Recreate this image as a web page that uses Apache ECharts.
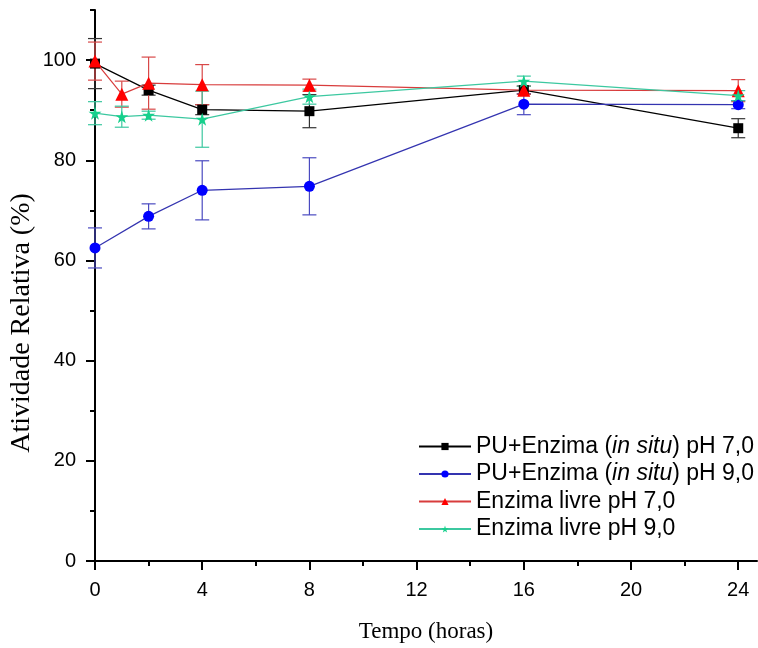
<!DOCTYPE html>
<html>
<head>
<meta charset="utf-8">
<script src="https://cdn.jsdelivr.net/npm/echarts@6/dist/echarts.min.js"></script>
<style>
  html, body { margin: 0; padding: 0; background: #fff; }
  #chart { width: 758px; height: 648px; }
</style>
</head>
<body>
<div id="chart"></div>
<script>
// tempo (horas)
const xPU = [0, 2, 4, 8, 16, 24]
const xLivre = [0, 1, 2, 4, 8, 16, 24]

// atividade relativa (%) e desvios
const puPH7 = [99.3, 94.0, 90.1, 89.8, 94.0, 86.4]
const puPH7Err = [5.0, 1.0, 1.0, 3.3, 0.8, 1.9]
const puPH9 = [62.5, 68.8, 74.0, 74.8, 91.2, 91.1]
const puPH9Err = [4.0, 2.5, 5.9, 5.7, 2.1, 0.8]
const livrePH7 = [99.8, 93.2, 95.4, 95.1, 95.0, 94.0, 93.9]
const livrePH7Err = [3.8, 2.6, 5.2, 4.0, 1.2, 0.8, 2.2]
const livrePH9 = [89.4, 88.7, 89.0, 88.2, 92.7, 95.8, 92.9]
const livrePH9Err = [2.3, 2.1, 0.8, 5.6, 1.5, 1.0, 1.0]

const xMajor = [0, 4, 8, 12, 16, 20, 24]
const xMinor = [2, 6, 10, 14, 18, 22]
const yMajor = [0, 20, 40, 60, 80, 100]
const yMinor = [10, 30, 50, 70, 90, 110]

const names = [
  "PU+Enzima (in situ) pH 7,0",
  "PU+Enzima (in situ) pH 9,0",
  "Enzima livre pH 7,0",
  "Enzima livre pH 9,0"
]

const star = "path://M50,0 L61,35 L98,35 L68,57 L79,91 L50,70 L21,91 L32,57 L2,35 L39,35 Z"

const chart = echarts.init(document.getElementById("chart"))

function pairs(xs, ys) {
  return xs.map((x, i) => [x, ys[i]])
}
function triples(xs, ys, es) {
  return xs.map((x, i) => [x, ys[i], es[i]])
}

// barras de erro
function errorBars(color) {
  return function (params, api) {
    const x = api.value(0)
    const y = api.value(1)
    const e = api.value(2)
    const top = api.coord([x, y + e])
    const bot = api.coord([x, y - e])
    const hw = 7
    const style = { stroke: color, lineWidth: 1.2, fill: null }
    return {
      type: "group",
      children: [
        { type: "line", shape: { x1: top[0], y1: top[1], x2: bot[0], y2: bot[1] }, style },
        { type: "line", shape: { x1: top[0] - hw, y1: top[1], x2: top[0] + hw, y2: top[1] }, style },
        { type: "line", shape: { x1: bot[0] - hw, y1: bot[1], x2: bot[0] + hw, y2: bot[1] }, style }
      ]
    }
  }
}

function errSeries(name, data, color) {
  return {
    name: name,
    type: "custom",
    renderItem: errorBars(color),
    data: data,
    encode: { x: 0, y: 1 },
    clip: false,
    z: 1,
    silent: true
  }
}

function lineSeries(name, data, symbol, size, markerColor, lineColor) {
  return {
    name: name,
    type: "line",
    data: data,
    symbol: symbol,
    symbolSize: size,
    showAllSymbol: true,
    itemStyle: { color: markerColor },
    lineStyle: { color: lineColor, width: 1.2 },
    clip: false,
    z: 3
  }
}

const axisFont = "'Liberation Sans', Arial, sans-serif"
const titleFont = "'Liberation Serif', 'Times New Roman', serif"

const option = {
  animation: false,
  backgroundColor: "#fff",
  grid: { left: 95, right: 1, top: 10, bottom: 85, containLabel: false },
  legend: {
    data: names,
    orient: "vertical",
    left: 418,
    top: 435,
    padding: 0,
    itemWidth: 52,
    itemHeight: 9,
    itemGap: 4.5,
    formatter: (name) => name.replace("in situ", "{i|in situ}"),
    textStyle: {
      fontSize: 23,
      fontFamily: axisFont,
      color: "#000",
      rich: {
        i: { fontSize: 23, fontStyle: "italic", fontFamily: axisFont, color: "#000" }
      }
    }
  },
  graphic: [
    {
      type: "text",
      x: 22,
      y: 323,
      rotation: Math.PI / 2,
      style: {
        text: "Atividade Relativa (%)",
        font: "28px " + titleFont,
        fill: "#000",
        align: "center",
        verticalAlign: "middle"
      }
    }
  ],
  xAxis: [
    {
      type: "value",
      min: 0,
      max: 24.7,
      name: "Tempo (horas)",
      nameLocation: "middle",
      nameGap: 59,
      nameTextStyle: { fontSize: 23, fontFamily: titleFont, color: "#000" },
      splitLine: { show: false },
      axisLine: { lineStyle: { color: "#000", width: 2 } },
      axisTick: { customValues: xMajor, length: 9, lineStyle: { color: "#000", width: 2 } },
      axisLabel: { customValues: xMajor, fontSize: 20, fontFamily: axisFont, color: "#000", margin: 19 }
    },
    {
      type: "value",
      min: 0,
      max: 24.7,
      position: "bottom",
      splitLine: { show: false },
      axisLine: { show: false },
      axisTick: { customValues: xMinor, length: 5, lineStyle: { color: "#000", width: 2 } },
      axisLabel: { show: false }
    }
  ],
  yAxis: [
    {
      type: "value",
      min: 0,
      max: 110,
      splitLine: { show: false },
      axisLine: { lineStyle: { color: "#000", width: 2 } },
      axisTick: { customValues: yMajor, length: 9, lineStyle: { color: "#000", width: 2 } },
      axisLabel: { customValues: yMajor, fontSize: 20, fontFamily: axisFont, color: "#000", margin: 19 }
    },
    {
      type: "value",
      min: 0,
      max: 110,
      position: "left",
      splitLine: { show: false },
      axisLine: { show: false },
      axisTick: { customValues: yMinor, length: 5, lineStyle: { color: "#000", width: 2 } },
      axisLabel: { show: false }
    }
  ],
  series: [
    errSeries("err0", triples(xPU, puPH7, puPH7Err), "#333333"),
    errSeries("err1", triples(xPU, puPH9, puPH9Err), "#4a4ac0"),
    errSeries("err2", triples(xLivre, livrePH7, livrePH7Err), "#d84848"),
    errSeries("err3", triples(xLivre, livrePH9, livrePH9Err), "#3cc8a0"),
    lineSeries(names[0], pairs(xPU, puPH7), "rect", 10, "#000000", "#000000"),
    lineSeries(names[1], pairs(xPU, puPH9), "circle", 11, "#0000ff", "#3434b0"),
    lineSeries(names[2], pairs(xLivre, livrePH7), "triangle", 13, "#ff0000", "#d83c3c"),
    lineSeries(names[3], pairs(xLivre, livrePH9), star, 13, "#16d08c", "#3cc8a0")
  ]
}

chart.setOption(option)
</script>
</body>
</html>
